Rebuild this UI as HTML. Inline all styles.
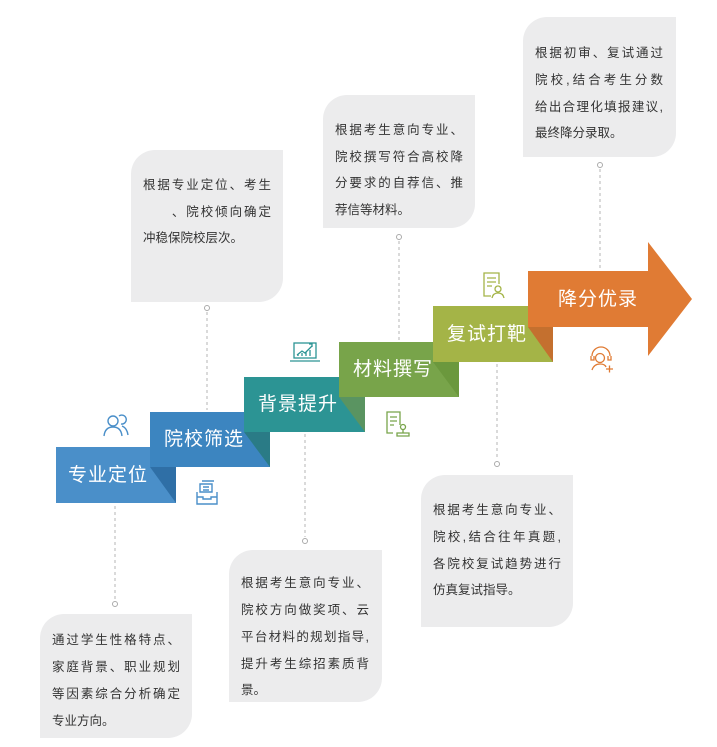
<!DOCTYPE html>
<html><head><meta charset="utf-8"><style>
html,body{margin:0;padding:0;background:#fff;}
body{width:717px;height:747px;position:relative;overflow:hidden;font-family:"Liberation Sans","Noto Sans CJK SC",sans-serif;}
.card{position:absolute;background:#ececed;border-radius:24px 0 24px 0;}
.card div{position:absolute;left:12px;width:128px;font-size:12.5px;color:#333;height:16px;line-height:16px;white-space:nowrap;}
.j{text-align:justify;text-align-last:justify;}
svg{position:absolute;left:0;top:0;}
.st{font-size:19px;fill:#fff;font-family:"Liberation Sans","Noto Sans CJK SC",sans-serif;letter-spacing:1px;}
</style></head><body>

<div class="card" style="left:40px;top:614px;width:152px;height:124px;">
<div class="j" style="top:18px">通过学生性格特点、</div>
<div class="j" style="top:45px">家庭背景、职业规划</div>
<div class="j" style="top:72px">等因素综合分析确定</div>
<div style="top:99px">专业方向。</div>
</div>
<div class="card" style="left:131px;top:150px;width:152px;height:152px;">
<div class="j" style="top:27px">根据专业定位、考生</div>
<div class="j" style="top:54px"><span style="color:#f6f6f6">&#x3000;&#x3000;</span>、院校倾向确定</div>
<div style="top:80px">冲稳保院校层次。</div>
</div>
<div class="card" style="left:229px;top:550px;width:153px;height:152px;">
<div class="j" style="top:25px">根据考生意向专业、</div>
<div class="j" style="top:52px">院校方向做奖项、云</div>
<div class="j" style="top:79px">平台材料的规划指导,</div>
<div class="j" style="top:106px">提升考生综招素质背</div>
<div style="top:132px">景。</div>
</div>
<div class="card" style="left:323px;top:95px;width:152px;height:133px;">
<div class="j" style="top:27px">根据考生意向专业、</div>
<div class="j" style="top:54px">院校撰写符合高校降</div>
<div class="j" style="top:80px">分要求的自荐信、推</div>
<div style="top:107px">荐信等材料。</div>
</div>
<div class="card" style="left:421px;top:475px;width:152px;height:152px;">
<div class="j" style="top:27px">根据考生意向专业、</div>
<div class="j" style="top:54px">院校,结合往年真题,</div>
<div class="j" style="top:81px">各院校复试趋势进行</div>
<div style="top:107px">仿真复试指导。</div>
</div>
<div class="card" style="left:523px;top:17px;width:153px;height:140px;">
<div class="j" style="top:28px">根据初审、复试通过</div>
<div class="j" style="top:55px">院校,结合考生分数</div>
<div class="j" style="top:82px">给出合理化填报建议,</div>
<div style="top:108px">最终降分录取。</div>
</div>

<svg width="717" height="747" viewBox="0 0 717 747">
<g stroke="#b5b5b5" stroke-width="1" stroke-dasharray="3,3" fill="none">
<line x1="115" y1="506" x2="115" y2="600"/>
<line x1="207" y1="312" x2="207" y2="410"/>
<line x1="305" y1="434" x2="305" y2="537"/>
<line x1="399" y1="241" x2="399" y2="340"/>
<line x1="497" y1="364" x2="497" y2="460"/>
<line x1="600" y1="169" x2="600" y2="268"/>
</g>
<g fill="#fff" stroke="#aaa" stroke-width="1">
<circle cx="115" cy="604" r="2.5"/><circle cx="207" cy="308" r="2.5"/><circle cx="305" cy="541" r="2.5"/>
<circle cx="399" cy="237" r="2.5"/><circle cx="497" cy="464" r="2.5"/><circle cx="600" cy="165" r="2.5"/>
</g>
<!-- steps -->
<rect x="56" y="447" width="120" height="56" fill="#4a8fc9"/>
<polygon points="150,467 176,467 176,503" fill="#2f6fa6"/>
<rect x="150" y="412" width="120" height="55" fill="#3c85c0"/>
<polygon points="244,432 270,432 270,467" fill="#2a7b86"/>
<rect x="244" y="377" width="121" height="55" fill="#2c9494"/>
<polygon points="339,397 365,397 365,432" fill="#5a9461"/>
<rect x="339" y="342" width="120" height="55" fill="#78a44a"/>
<polygon points="433,362 459,362 459,397" fill="#6b983d"/>
<rect x="433" y="306" width="120" height="56" fill="#a4b447"/>
<polygon points="528,327 553,327 553,362" fill="#c4702f"/>
<polygon points="528,271 648,271 648,242 692,299 648,356 648,327 528,327" fill="#e07b34"/>
<text class="st" x="68" y="481">专业定位</text>
<text class="st" x="164" y="445">院校筛选</text>
<text class="st" x="258" y="410">背景提升</text>
<text class="st" x="353" y="375">材料撰写</text>
<text class="st" x="447" y="340">复试打靶</text>
<text class="st" x="558" y="305">降分优录</text>
<!-- icons -->
<g fill="none" stroke="#4a8fc9" stroke-width="1.4">
<circle cx="113" cy="421" r="5"/><path d="M104,436 q1,-9 9,-9 q8,0 9,9"/>
<path d="M119,416 a4.5,4.5 0 1 1 2,8 M122,426 q5,2 6,9"/>
<path d="M200,484 h12 v8 h-12 z M202,481 h12 M203,487 h6 M203,490 h6 M197,492 v12 h20 v-12 M197,497 h6 v2 h8 v-2 h6"/>
</g>
<g fill="none" stroke="#2c9494" stroke-width="1.3">
<rect x="294" y="343" width="22" height="15"/><path d="M290,361 h30"/>
<path d="M297,355 l5,-4 l3,2 l7,-7 M309,344 h3 v3"/>
<path d="M298,356 v-2 M302,356 v-3 M306,356 v-4 M310,356 v-6"/>
</g>
<g fill="none" stroke="#78a44a" stroke-width="1.3">
<path d="M400,425 v-13 h-13 v21 h6 M390,417 h7 M390,421 h7 M390,425 h4"/>
<circle cx="403" cy="427" r="2.5"/><path d="M403,430 v3 M397,433 h12 v3 h-12 z"/>
</g>
<g fill="none" stroke="#a4b447" stroke-width="1.3">
<path d="M499,284 v-11 h-15 v23 h7 M487,278 h9 M487,282 h9 M487,286 h5"/>
<circle cx="498" cy="289" r="3"/><path d="M492,298 q1,-5 6,-5 q5,0 6,5"/>
</g>
<g fill="none" stroke="#e07b34" stroke-width="1.3">
<path d="M592,356 a9,9 0 0 1 18,0 M591,356 v4 h3 v-4 M608,356 v4 h3 v-4"/>
<circle cx="600" cy="358" r="4.5"/><path d="M592,370 q2,-6 8,-6 q5,0 6,3 M606,369 h7 M609.5,365.5 v7"/>
</g>
</svg>
</body></html>
